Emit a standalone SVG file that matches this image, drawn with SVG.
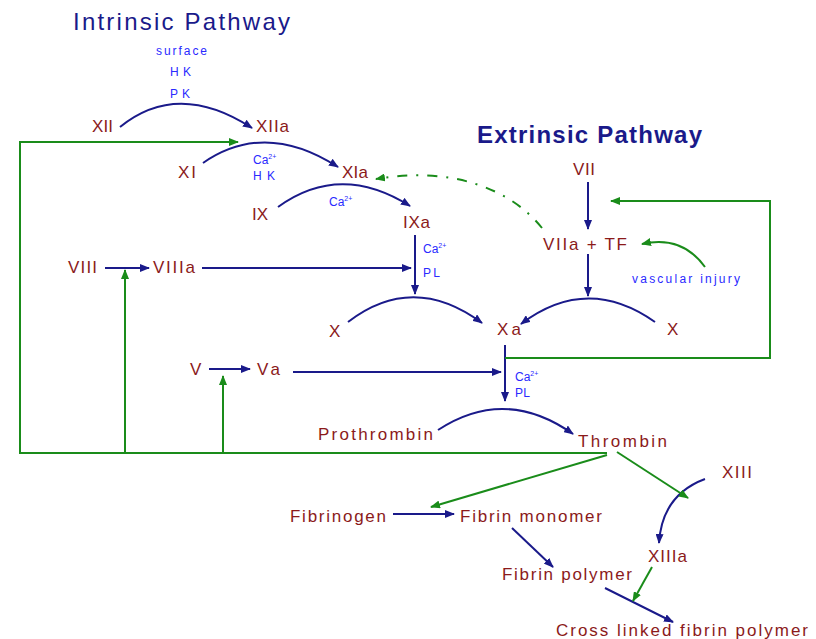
<svg xmlns="http://www.w3.org/2000/svg" width="816" height="639" viewBox="0 0 816 639">
<style>
.t{font-family:"Liberation Sans",Arial,sans-serif;fill:#8b1a1a;font-size:17px}
.s{font-family:"Liberation Sans",Arial,sans-serif;fill:#2a2aff;font-size:12px}
.h{font-family:"Liberation Sans",Arial,sans-serif;fill:#1a1a8a;font-size:24px}
.n{fill:none;stroke:#1a1a8a;stroke-width:2}
.g{fill:none;stroke:#1a8c1a;stroke-width:2}
</style>
<defs>
<marker id="an" viewBox="0 0 10 8" refX="9" refY="4" markerWidth="10" markerHeight="8" orient="auto" markerUnits="userSpaceOnUse"><path d="M0,0 L10,4 L0,8 z" fill="#1a1a8a"/></marker>
<marker id="ag" viewBox="0 0 10 8" refX="9" refY="4" markerWidth="10" markerHeight="8" orient="auto" markerUnits="userSpaceOnUse"><path d="M0,0 L10,4 L0,8 z" fill="#1a8c1a"/></marker>
</defs>
<rect width="816" height="639" fill="#ffffff"/>
<g id="titles">
<text class="h" x="73" y="30" textLength="217" lengthAdjust="spacing">Intrinsic Pathway</text>
<text class="h" x="477" y="143" font-weight="bold" textLength="225" lengthAdjust="spacing">Extrinsic Pathway</text>
</g>
<g id="connectors">
<path class="n" d="M120,127 Q178,80 252,128" marker-end="url(#an)"/>
<path class="n" d="M203,163 Q265,120 338,167" marker-end="url(#an)"/>
<path class="n" d="M278,207 Q340,162 410,206" marker-end="url(#an)"/>
<path class="n" d="M348,322 Q413,272 482,323" marker-end="url(#an)"/>
<path class="n" d="M655,322 Q587,274 521,324" marker-end="url(#an)"/>
<path class="n" d="M438,430 Q505,386 573,434" marker-end="url(#an)"/>
<path class="n" d="M705,479 Q662,495 659,543" marker-end="url(#an)"/>
<path class="n" d="M105,268 L149,268" marker-end="url(#an)"/>
<path class="n" d="M202,268 L411,268" marker-end="url(#an)"/>
<path class="n" d="M415,235 L415,294" marker-end="url(#an)"/>
<path class="n" d="M588,182 L588,229" marker-end="url(#an)"/>
<path class="n" d="M588,254 L588,296" marker-end="url(#an)"/>
<path class="n" d="M209,369 L250,369" marker-end="url(#an)"/>
<path class="n" d="M293,372 L501,372" marker-end="url(#an)"/>
<path class="n" d="M505,345 L505,401" marker-end="url(#an)"/>
<path class="n" d="M393,514 L454,514" marker-end="url(#an)"/>
<path class="n" d="M512,528 L553,567" marker-end="url(#an)"/>
<path class="n" d="M605,588 L673,622" marker-end="url(#an)"/>
<path class="g" d="M607,453 L20,453 L20,142 L238,142" marker-end="url(#ag)"/>
<path class="g" d="M125,453 L125,270" marker-end="url(#ag)"/>
<path class="g" d="M223,453 L223,376" marker-end="url(#ag)"/>
<path class="g" d="M607,455 L431,507" marker-end="url(#ag)"/>
<path class="g" d="M617,452 L688,498" marker-end="url(#ag)"/>
<path class="g" d="M505,358 L770,358 L770,201 L611,201" marker-end="url(#ag)"/>
<path class="g" d="M705,267 Q682,235 642,244" marker-end="url(#ag)"/>
<path class="g" d="M542,228 C510,188 450,166 376,179" stroke-dasharray="10,9,2,9" marker-end="url(#ag)"/>
<path class="g" d="M652,567 L633,601" marker-end="url(#ag)"/>
</g>
<g id="cofactors">
<text class="s" x="156" y="55" textLength="51" lengthAdjust="spacing">surface</text>
<text class="s" x="170" y="76" textLength="21" lengthAdjust="spacing">HK</text>
<text class="s" x="170" y="98" textLength="20" lengthAdjust="spacing">PK</text>
<text class="s" x="253" y="164">Ca<tspan font-size="7" dy="-5">2+</tspan></text>
<text class="s" x="253" y="180" textLength="22" lengthAdjust="spacing">HK</text>
<text class="s" x="329" y="206">Ca<tspan font-size="7" dy="-5">2+</tspan></text>
<text class="s" x="423" y="253">Ca<tspan font-size="7" dy="-5">2+</tspan></text>
<text class="s" x="423" y="277" textLength="17" lengthAdjust="spacing">PL</text>
<text class="s" x="515" y="381">Ca<tspan font-size="7" dy="-5">2+</tspan></text>
<text class="s" x="515" y="397" textLength="15" lengthAdjust="spacing">PL</text>
<text class="s" x="632" y="283" textLength="108" lengthAdjust="spacing">vascular injury</text>
</g>
<g id="XII"><text class="t" x="92" y="132" textLength="21" lengthAdjust="spacing">XII</text></g>
<g id="XIIa"><text class="t" x="256" y="132" textLength="33" lengthAdjust="spacing">XIIa</text></g>
<g id="XI"><text class="t" x="178" y="178" textLength="18" lengthAdjust="spacing">XI</text></g>
<g id="XIa"><text class="t" x="342" y="178" textLength="26" lengthAdjust="spacing">XIa</text></g>
<g id="IX"><text class="t" x="252" y="220" textLength="16" lengthAdjust="spacing">IX</text></g>
<g id="IXa"><text class="t" x="403" y="228" textLength="27" lengthAdjust="spacing">IXa</text></g>
<g id="VII"><text class="t" x="573" y="175" textLength="22" lengthAdjust="spacing">VII</text></g>
<g id="VIIaTF"><text class="t" x="543" y="250" textLength="84" lengthAdjust="spacing">VIIa + TF</text></g>
<g id="VIII"><text class="t" x="68" y="273" textLength="29" lengthAdjust="spacing">VIII</text></g>
<g id="VIIIa"><text class="t" x="153" y="273" textLength="42" lengthAdjust="spacing">VIIIa</text></g>
<g id="X1"><text class="t" x="329" y="337" font-size="14">X</text></g>
<g id="Xa"><text class="t" x="497" y="335" textLength="24" lengthAdjust="spacing">Xa</text></g>
<g id="X2"><text class="t" x="667" y="335" font-size="14">X</text></g>
<g id="V"><text class="t" x="190" y="375">V</text></g>
<g id="Va"><text class="t" x="257" y="375" textLength="23" lengthAdjust="spacing">Va</text></g>
<g id="Prothrombin"><text class="t" x="318" y="440" textLength="115" lengthAdjust="spacing">Prothrombin</text></g>
<g id="Thrombin"><text class="t" x="578" y="447" textLength="89" lengthAdjust="spacing">Thrombin</text></g>
<g id="XIII"><text class="t" x="722" y="478" textLength="30" lengthAdjust="spacing">XIII</text></g>
<g id="Fibrinogen"><text class="t" x="290" y="522" textLength="96" lengthAdjust="spacing">Fibrinogen</text></g>
<g id="FibrinMonomer"><text class="t" x="460" y="522" textLength="142" lengthAdjust="spacing">Fibrin monomer</text></g>
<g id="XIIIa"><text class="t" x="648" y="562" textLength="39" lengthAdjust="spacing">XIIIa</text></g>
<g id="FibrinPolymer"><text class="t" x="502" y="580" textLength="130" lengthAdjust="spacing">Fibrin polymer</text></g>
<g id="CrossLinked"><text class="t" x="556" y="636" textLength="252" lengthAdjust="spacing">Cross linked fibrin polymer</text></g>
</svg>
